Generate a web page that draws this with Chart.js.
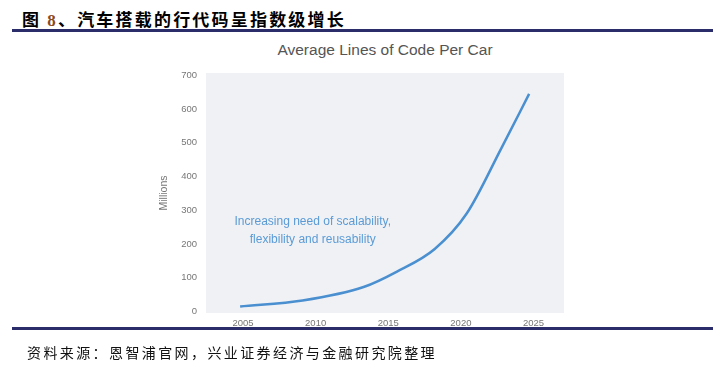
<!DOCTYPE html>
<html>
<head>
<meta charset="utf-8">
<script src="https://cdn.jsdelivr.net/npm/chart.js@4/dist/chart.umd.min.js"></script>
<style>
  html, body { margin: 0; padding: 0; background: #fff; }
  #wrap { position: relative; width: 726px; height: 368px; overflow: hidden; }
  #code-chart { position: absolute; left: 0; top: 0; }
  .rule { position: absolute; left: 12px; width: 701px; height: 3px; background: #2b2d6b; }
  #fig-title { position: absolute; left: 22px; top: 6px; font-family: "Noto Sans CJK SC", sans-serif; font-weight: 700; font-size: 17px; letter-spacing: 2.2px; color: #000; white-space: nowrap; }
  #fig-title .num { color: #8a4b1c; font-family: "Liberation Serif", serif; }
  #source { position: absolute; left: 27px; top: 342px; font-family: "Noto Sans CJK SC", sans-serif; font-size: 14px; letter-spacing: 2.4px; color: #111; white-space: nowrap; }
  #chart-title { position: absolute; left: 206px; width: 358px; top: 41px; text-align: center; font-family: "Liberation Sans", Arial, sans-serif; font-size: 15.5px; color: #555; }
</style>
</head>
<body>
<div id="wrap">
  <div id="fig-title">图 <span class="num">8</span>、汽车搭载的行代码呈指数级增长</div>
  <div class="rule" style="top:29px"></div>
  <div id="chart-title">Average Lines of Code Per Car</div>
  <canvas id="code-chart" width="726" height="368"></canvas>
  <div class="rule" style="top:327px"></div>
  <div id="source">资料来源：恩智浦官网，兴业证券经济与金融研究院整理</div>
</div>
<script>
// --- Data ---
const years = [2004.8, 2009.1, 2013.3, 2015.6, 2018.2, 2020.4, 2022.8, 2024.7];
const linesOfCode = [14, 32, 72, 118, 185, 290, 485, 645]; // millions
const xTicks = [2005, 2010, 2015, 2020, 2025];
const yTicks = [0, 100, 200, 300, 400, 500, 600, 700];
const noteLines = ['Increasing need of scalability,', 'flexibility and reusability'];

const points = years.map((y, i) => ({ x: y, y: linesOfCode[i] }));

// light panel behind the plot + the blue note
const panelPlugin = {
    id: 'panel',
    beforeDraw(chart) {
        const { ctx, chartArea: a } = chart;
        ctx.save();
        ctx.fillStyle = '#eff1f5';
        ctx.fillRect(a.left, a.top, a.right - a.left, a.bottom - a.top);
        ctx.restore();
    },
    afterDatasetsDraw(chart) {
        const { ctx, scales } = chart;
        const cx = scales.x.getPixelForValue(2009.8);
        ctx.save();
        ctx.fillStyle = '#5b9bd5';
        ctx.font = '12px "Liberation Sans", Arial, sans-serif';
        ctx.textAlign = 'center';
        ctx.textBaseline = 'middle';
        ctx.fillText(noteLines[0], cx, scales.y.getPixelForValue(266));
        ctx.fillText(noteLines[1], cx, scales.y.getPixelForValue(213));
        ctx.restore();
    }
};

const tickFont = { family: '"Liberation Sans", Arial, sans-serif', size: 9.5 };

new Chart(document.getElementById('code-chart').getContext('2d'), {
    type: 'line',
    data: {
        datasets: [{
            data: points,
            borderColor: '#4a8fd0',
            borderWidth: 2.5,
            pointRadius: 0,
            cubicInterpolationMode: 'monotone',
            fill: false
        }]
    },
    options: {
        responsive: false,
        animation: false,
        layout: { padding: { left: 156, right: 162, top: 73, bottom: 35 } },
        plugins: { legend: { display: false }, tooltip: { enabled: false } },
        scales: {
            x: {
                type: 'linear',
                min: 2002.45,
                max: 2027.1,
                afterBuildTicks: s => { s.ticks = xTicks.map(v => ({ value: v })); },
                afterFit: s => { s.height = 20; },
                grid: { display: false, drawTicks: false },
                border: { display: false },
                ticks: { color: '#777', font: tickFont, padding: 5, maxRotation: 0, callback: v => String(v) }
            },
            y: {
                min: -5,
                max: 707,
                afterBuildTicks: s => { s.ticks = yTicks.map(v => ({ value: v })); },
                afterFit: s => { s.width = 50; },
                grid: { display: false, drawTicks: false },
                border: { display: false },
                title: { display: true, text: 'Millions', color: '#777', font: { family: '"Liberation Sans", Arial, sans-serif', size: 10.5 }, padding: 2 },
                ticks: { color: '#777', font: tickFont, padding: 9 }
            }
        }
    },
    plugins: [panelPlugin]
});
</script>
</body>
</html>
